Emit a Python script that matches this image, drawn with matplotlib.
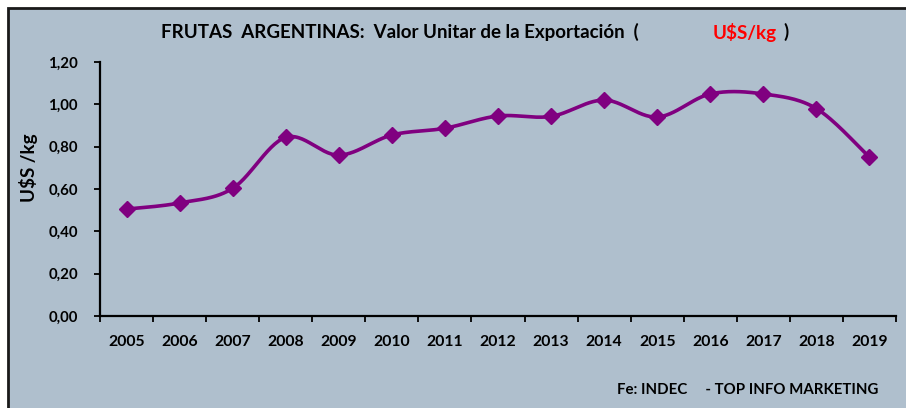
import numpy as np
import matplotlib
matplotlib.use("Agg")
import matplotlib.pyplot as plt
from matplotlib.patches import Rectangle

# data
years = ["2005", "2006", "2007", "2008", "2009", "2010", "2011", "2012",
         "2013", "2014", "2015", "2016", "2017", "2018", "2019"]
valor = [0.505, 0.534, 0.603, 0.844, 0.760, 0.855, 0.887, 0.945,
         0.943, 1.020, 0.940, 1.049, 1.049, 0.980, 0.750]
y_ticks = [0.0, 0.2, 0.4, 0.6, 0.8, 1.0, 1.2]

bg = "#AFBFCD"
purple = "#800080"
plt.rcParams["font.family"] = ["Lato", "DejaVu Sans"]


# Catmull-Rom smoothing (like Excel's smoothed line)
def smooth(x, y, n=30):
    x = np.asarray(x, float)
    y = np.asarray(y, float)
    px = np.concatenate([[x[0]], x, [x[-1]]])
    py = np.concatenate([[y[0]], y, [y[-1]]])
    xs, ys = [], []
    t = np.linspace(0, 1, n)
    for i in range(1, len(px) - 2):
        for p, out in ((px, xs), (py, ys)):
            p0, p1, p2, p3 = p[i - 1], p[i], p[i + 1], p[i + 2]
            out.extend(0.5 * (2 * p1 + (-p0 + p2) * t
                              + (2 * p0 - 5 * p1 + 4 * p2 - p3) * t**2
                              + (-p0 + 3 * p1 - 3 * p2 + p3) * t**3))
    return np.array(xs), np.array(ys)


fig = plt.figure(figsize=(9.06, 4.08), dpi=100, facecolor="white")
fig.patches.append(Rectangle((8 / 906, -0.1), 1.1, (400 / 408) + 0.1,
                             transform=fig.transFigure, facecolor=bg,
                             edgecolor="#1a1a1a", linewidth=2, zorder=-1))

ax = fig.add_axes([100 / 906, 92 / 408, 796 / 906, 254 / 408])
ax.set_facecolor(bg)

x = np.arange(len(years))
sx, sy = smooth(x, valor)
ax.plot(sx, sy, color=purple, lw=2.6, solid_capstyle="round")
ax.plot(x, valor, linestyle="none", marker="D", markersize=8.5, color=purple)

ax.set_xlim(-0.5, len(years) - 0.5)
ax.set_ylim(0, 1.2)
ax.set_yticks(y_ticks)
ax.set_yticklabels([f"{v:.2f}".replace(".", ",") for v in y_ticks])
ax.set_xticks(np.arange(-0.5, len(years)), labels=[])
ax.set_xticks(x, labels=years, minor=True)
ax.tick_params(axis="x", which="major", direction="out", length=4, width=1.3)
ax.tick_params(axis="x", which="minor", length=0, pad=14)
ax.tick_params(axis="y", direction="out", length=4, width=1.3, pad=12)
for lab in ax.get_xticklabels(minor=True):
    lab.set_fontweight("bold")
    lab.set_fontsize(11.3)
for lab in ax.get_yticklabels():
    lab.set_fontweight("bold")
    lab.set_fontsize(10.8)
for s in ["top", "right"]:
    ax.spines[s].set_visible(False)
for s in ["left", "bottom"]:
    ax.spines[s].set_linewidth(1.6)

fig.text(28 / 906, 1 - 168 / 408, "U$S /kg", rotation=90, ha="center",
         va="center", fontsize=13.5, fontweight="bold")

# title in pieces
ty = 1 - 32 / 408
fig.text(161 / 906, ty, "FRUTAS  ARGENTINAS:  Valor Unitar de la Exportación  (",
         ha="left", va="center", fontsize=13.5, fontweight="bold")
fig.text(713 / 906, ty, "U$S/kg", ha="left", va="center", fontsize=13.5,
         fontweight="bold", color="#FF0000")
fig.text(783 / 906, ty, ")", ha="left", va="center", fontsize=13.5,
         fontweight="bold")

fig.text(617 / 906, 1 - 390 / 408, "Fe: INDEC     - TOP INFO MARKETING",
         ha="left", va="center", fontsize=10.8, fontweight="bold")

fig.savefig("out.png", dpi=100, facecolor="white")
